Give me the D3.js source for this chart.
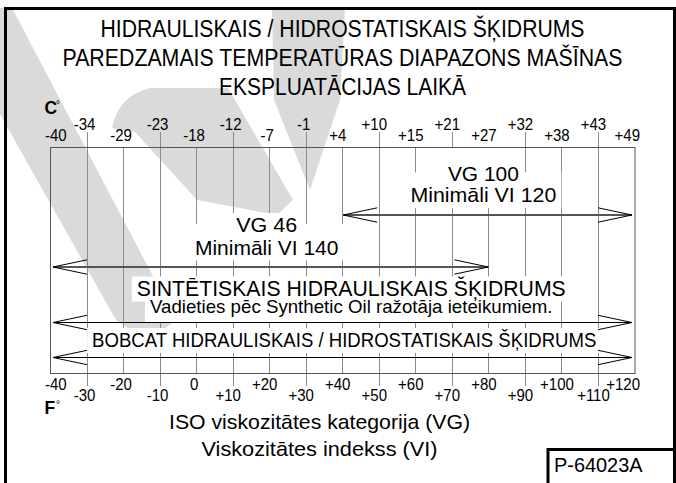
<!DOCTYPE html>
<html>
<head>
<meta charset="utf-8">
<script src="https://cdn.jsdelivr.net/npm/d3@7"></script>
<style>
  body { margin: 0; background: #fff; }
  svg { display: block; }
  text { font-family: "Liberation Sans", Arial, Helvetica, sans-serif; fill: #000; }
</style>
</head>
<body>
<svg id="chart" width="676" height="483"></svg>
<script>
// Temperature scale: grid lines sit on whole tens of °F, Celsius labels are their conversions
const fahrenheitTicks = [-40, -30, -20, -10, 0, 10, 20, 30, 40, 50, 60, 70, 80, 90, 100, 110, 120];
const celsiusLabels = ["-40", "-34", "-29", "-23", "-18", "-12", "-7", "-1", "+4", "+10", "+15", "+21", "+27", "+32", "+38", "+43", "+49"];
const fahrenheitLabels = ["-40", "-30", "-20", "-10", "0", "+10", "+20", "+30", "+40", "+50", "+60", "+70", "+80", "+90", "+100", "+110", "+120"];

// Operating ranges of each fluid, in °F
const fluidNames = ["VG 100", "VG 46", "SINTĒTISKAIS", "BOBCAT"];
const rangeFromF = [40, -40, -40, -40];
const rangeToF = [120, 80, 120, 120];
const fluidLabels = [
  ["VG 100", "Minimāli VI 120"],
  ["VG 46", "Minimāli VI 140"],
  ["SINTĒTISKAIS HIDRAULISKAIS ŠĶIDRUMS", "Vadieties pēc Synthetic Oil ražotāja ieteikumiem."],
  ["BOBCAT HIDRAULISKAIS / HIDROSTATISKAIS ŠĶIDRUMS"]
];

const titleLines = [
  "HIDRAULISKAIS / HIDROSTATISKAIS ŠĶIDRUMS",
  "PAREDZAMAIS TEMPERATŪRAS DIAPAZONS MAŠĪNAS",
  "EKSPLUATĀCIJAS LAIKĀ"
];
const footerLines = ["ISO viskozitātes kategorija (VG)", "Viskozitātes indekss (VI)"];
const figureCode = "P-64023A";

// ---- layout ----
const svg = d3.select("#chart");
const box = { left: 50, right: 634.5, top: 147, bottom: 373 };
const x = d3.scaleLinear().domain([-40, 120]).range([box.left, box.right]);
const rowY = d3.scaleOrdinal().domain(fluidNames).range([215, 267, 322.5, 357.5]);

// per-block typography: font size, baselines, fitted widths, horizontal nudge
const labelStyle = [
  { sizes: [21, 21], base: [180.5, 202], widths: [71, 146], dx: -5, topTo: box.top },
  { sizes: [21, 21], base: [232, 254.5], widths: [61, 143.5], dx: -2.5 },
  { sizes: [21.5, 19], base: [295.5, 313], widths: [429, 402.6], dx: 9, bottomPad: 9 },
  { sizes: [19.5], base: [347], widths: [504.3], dx: 2 }
];

// condense a text to the width it would take at a smaller nominal size
function condense(sel, nominal) {
  sel.each(function () {
    const actual = +this.getAttribute("font-size");
    const w = this.getComputedTextLength();
    this.setAttribute("textLength", w * nominal / actual);
    this.setAttribute("lengthAdjust", "spacingAndGlyphs");
  });
}

svg.append("rect").attr("width", 676).attr("height", 483).attr("fill", "#fff");

// faint background stamp behind the drawing
const stamp = svg.append("g").attr("fill", "#dadada");
stamp.append("path").attr("d", "M-60,8 L12,8 L176,320 L148,342 L116,320 Z");
stamp.append("path").attr("d", "M112,128 Q118,96 150,88 L228,88 L293,200 L277,215 L197,200 L135,132 Z");
stamp.append("path").attr("d", "M272,8 L345,8 L340,100 L310,190 L274,100 Z");

// outer frame
const frame = svg.append("g").attr("stroke", "#000").attr("stroke-width", 3).attr("fill", "none");
frame.append("path").attr("d", "M5.5,483 V8.5 H674.5 V483");
// figure code box
frame.append("path").attr("d", "M548,483 V449.5 H676");
svg.append("text").attr("x", 554).attr("y", 472).attr("font-size", 20)
  .attr("textLength", 88.5).attr("lengthAdjust", "spacingAndGlyphs").text(figureCode);

// title
const titleWidths = [484, 560, 247];
svg.append("g").selectAll("text").data(titleLines).join("text")
  .attr("x", 342.5).attr("y", (d, i) => 37 + i * 29.2)
  .attr("text-anchor", "middle").attr("font-size", 23.5)
  .attr("textLength", (d, i) => titleWidths[i]).attr("lengthAdjust", "spacingAndGlyphs")
  .text(d => d);

// grid lines; every other line runs past the box out to its staggered labels
const grid = svg.append("g").attr("stroke", "#8c8c8c").attr("stroke-width", 1);
grid.selectAll("line").data(fahrenheitTicks.slice(1, -1)).join("line")
  .attr("x1", d => Math.round(x(d)) + 0.5).attr("x2", d => Math.round(x(d)) + 0.5)
  .attr("y1", (d, i) => (i % 2 === 0 ? 132 : box.top))
  .attr("y2", (d, i) => (i % 2 === 0 ? 386 : box.bottom));

svg.append("rect")
  .attr("x", box.left + 0.5).attr("y", box.top + 0.5)
  .attr("width", box.right - box.left).attr("height", box.bottom - box.top)
  .attr("fill", "none").attr("stroke", "#555").attr("stroke-width", 1);

// tick label placement (staggered rows)
function labelX(v, i, n, s) {
  if (i === 0) return x(v) - 5;
  if (i === n - 1) return x(v) + 5.5;
  return x(v) - (s.startsWith("+") ? 4.5 : 2);
}
function labelAnchor(i, n) { return i === 0 ? "start" : (i === n - 1 ? "end" : "middle"); }

const n = fahrenheitTicks.length;
svg.append("g").selectAll("text").data(fahrenheitTicks).join("text")
  .attr("font-size", 17)
  .attr("x", (d, i) => labelX(d, i, n, celsiusLabels[i]))
  .attr("y", (d, i) => (i % 2 === 1 ? 130 : 141))
  .attr("text-anchor", (d, i) => labelAnchor(i, n))
  .text((d, i) => celsiusLabels[i])
  .call(condense, 15);

svg.append("g").selectAll("text").data(fahrenheitTicks).join("text")
  .attr("font-size", 17)
  .attr("x", (d, i) => labelX(d, i, n, fahrenheitLabels[i]))
  .attr("y", (d, i) => (i % 2 === 1 ? 401 : 390))
  .attr("text-anchor", (d, i) => labelAnchor(i, n))
  .text((d, i) => fahrenheitLabels[i])
  .call(condense, 15);

// unit markers
function unit(letter, yBase) {
  svg.append("text").attr("x", 44.5).attr("y", yBase).attr("font-size", 17.5)
    .attr("font-weight", "bold").text(letter);
  svg.append("text").attr("x", 56).attr("y", yBase - 6).attr("font-size", 10).text("°");
}
unit("C", 113.5);
unit("F", 413.5);

// range labels with white backing that interrupts the grid
const labelLayer = svg.append("g");
fluidNames.forEach((name, k) => {
  const st = labelStyle[k];
  const cx = (x(rangeFromF[k]) + x(rangeToF[k])) / 2 + st.dx;
  const lines = fluidLabels[k];
  lines.forEach((line, j) => {
    const w = st.widths[j];
    const top = j === 0 ? (st.topTo !== undefined ? st.topTo + 1 : st.base[0] - 19) : st.base[j - 1] - 8;
    const bottom = j === lines.length - 1 ? st.base[j] + (st.bottomPad || 6) : st.base[j] + 6;
    labelLayer.append("rect")
      .attr("x", cx - w / 2 - 5).attr("y", top)
      .attr("width", w + 10).attr("height", bottom - top)
      .attr("fill", "#fff");
  });
  lines.forEach((line, j) => {
    labelLayer.append("text")
      .attr("x", cx).attr("y", st.base[j]).attr("text-anchor", "middle")
      .attr("font-size", st.sizes[j])
      .attr("textLength", st.widths[j]).attr("lengthAdjust", "spacingAndGlyphs")
      .text(line);
  });
});

// double-headed range arrows
const arrows = svg.append("g").attr("fill", "none");
const headLen = 34, headHalf = 7.2;
fluidNames.forEach((name, k) => {
  const y = rowY(name);
  const x0 = x(rangeFromF[k]) + (rangeFromF[k] === -40 ? 3 : 1);
  const x1 = x(rangeToF[k]) - (rangeToF[k] === 120 ? 2.5 : 0);
  const heavy = k < 2;
  arrows.append("line").attr("x1", x0).attr("x2", x1).attr("y1", y).attr("y2", y)
    .attr("stroke", heavy ? "#555" : "#000").attr("stroke-width", heavy ? 2 : 1);
  arrows.append("path")
    .attr("d", `M${x0 + headLen},${y - headHalf} L${x0},${y} L${x0 + headLen},${y + headHalf}` +
               `M${x1 - headLen},${y - headHalf} L${x1},${y} L${x1 - headLen},${y + headHalf}`)
    .attr("stroke", "#000").attr("stroke-width", 1);
});

// footer
svg.append("g").selectAll("text").data(footerLines).join("text")
  .attr("x", 319.5).attr("y", (d, i) => 429 + i * 26.5)
  .attr("text-anchor", "middle").attr("font-size", 21)
  .attr("textLength", (d, i) => [301, 236][i]).attr("lengthAdjust", "spacingAndGlyphs")
  .text(d => d);
</script>
</body>
</html>
